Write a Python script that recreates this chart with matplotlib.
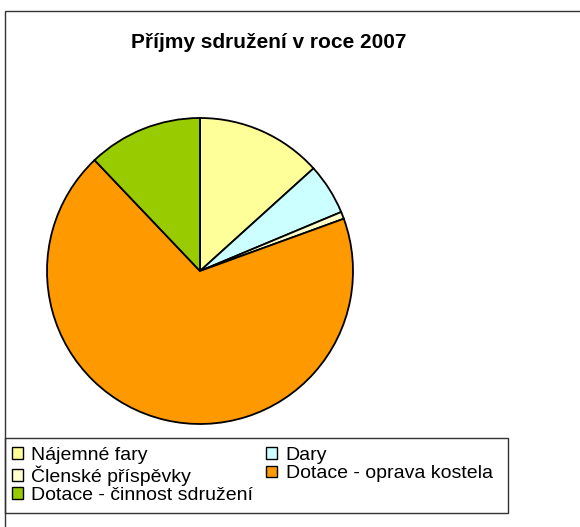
import matplotlib
matplotlib.use("Agg")
from matplotlib import pyplot as plt
from matplotlib.patches import Rectangle, Patch

plt.rcParams['font.family'] = ['Liberation Sans', 'DejaVu Sans']

# podíly příjmů (odhad z obrázku, v %)
labels = ["Nájemné fary", "Dary", "Členské příspěvky",
          "Dotace - oprava kostela", "Dotace - činnost sdružení"]
values = [13.3, 5.4, 0.75, 68.45, 12.1]
colors = ["#FFFF99", "#CCFFFF", "#FFFFCC", "#FF9900", "#99CC00"]
title = "Příjmy sdružení v roce 2007"

W, H = 580, 527
fig = plt.figure(figsize=(W / 100, H / 100), dpi=100)

def fx(px):
    return px / W

def fy(py):
    return 1 - py / H

# vnější rámeček grafu
fig.patches.append(Rectangle((fx(5), fy(600)), fx(700), fy(11) - fy(600),
                             transform=fig.transFigure, fill=False,
                             edgecolor="#333333", linewidth=1.0))

# koláč
cx, cy, r = 200, 271, 153
ax = fig.add_axes([fx(cx - r), fy(cy + r), fx(2 * r), fy(cy - r) - fy(cy + r)])
wedges, _ = ax.pie(values, colors=colors, startangle=90, counterclock=False,
                   wedgeprops=dict(edgecolor="black", linewidth=1.3))
for w in wedges:
    w.set_clip_on(False)
ax.set_xlim(-1, 1)
ax.set_ylim(-1, 1)
ax.set_aspect("equal")
ax.axis("off")

fig.text(fx(269), fy(42), title, ha="center", va="center",
         fontsize=15, fontweight="bold")

# legenda - rámeček
fig.patches.append(Rectangle((fx(5), fy(513)), fx(503), fy(438) - fy(513),
                             transform=fig.transFigure, fill=False,
                             edgecolor="#333333", linewidth=1.0))
order = [0, 2, 4, 1, 3]
handles = [Patch(facecolor=colors[i], edgecolor="black", linewidth=1.0) for i in order]
fig.legend(handles, [labels[i] for i in order], ncol=2, frameon=False,
           loc="upper left", bbox_to_anchor=(fx(12), fy(447)),
           fontsize=14, handlelength=0.55, handleheight=0.55, handletextpad=0.45,
           labelspacing=0.07, columnspacing=0.65, borderpad=0.0, borderaxespad=0)

fig.savefig("out.png", dpi=100)
